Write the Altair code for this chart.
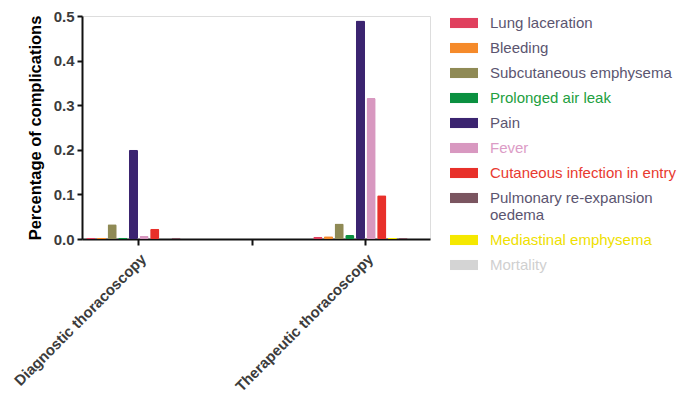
import altair as alt
import pandas as pd

groups = ["Diagnostic thoracoscopy", "Therapeutic thoracoscopy"]
axis_slots = ["Diagnostic thoracoscopy", "blank", "Therapeutic thoracoscopy"]

complications = [
    "Lung laceration",
    "Bleeding",
    "Subcutaneous emphysema",
    "Prolonged air leak",
    "Pain",
    "Fever",
    "Cutaneous infection in entry",
    "Pulmonary re-expansion oedema",
    "Mediastinal emphysema",
    "Mortality",
]
# order of the bars inside each group (as drawn in the original)
bar_order = [
    "Lung laceration",
    "Bleeding",
    "Subcutaneous emphysema",
    "Prolonged air leak",
    "Pain",
    "Fever",
    "Cutaneous infection in entry",
    "Mediastinal emphysema",
    "Pulmonary re-expansion oedema",
    "Mortality",
]

# values in legend order
diagnostic = [0.003, 0.003, 0.033, 0.003, 0.200, 0.007, 0.023, 0.003, 0.0, 0.0]
therapeutic = [0.005, 0.006, 0.035, 0.009, 0.490, 0.316, 0.098, 0.002, 0.002, 0.0]

bar_colors = [
    "#e0405e", "#f58a2a", "#8f8a55", "#0a9040", "#3b2470",
    "#d898c0", "#e8302a", "#7a5560", "#f5e800", "#d4d4d4",
]
label_colors = [
    "#5b5570", "#5b5570", "#5b5570", "#22a040", "#5b5570",
    "#dc9cc6", "#e83a30", "#5b5570", "#eee000", "#d0d0d0",
]

rows = []
for g, vals in zip(groups, [diagnostic, therapeutic]):
    for c, v in zip(complications, vals):
        rows.append({"group": g, "complication": c, "value": v})
df = pd.DataFrame(rows)

names_js = "[" + ",".join("'" + c + "'" for c in complications) + "]"
cols_js = "[" + ",".join("'" + c + "'" for c in label_colors) + "]"
label_color_expr = f"{cols_js}[indexof({names_js}, datum.value)]"

font = "Liberation Sans"

chart = (
    alt.Chart(df)
    .mark_bar(cornerRadius=1.5)
    .encode(
        x=alt.X(
            "group:N",
            scale=alt.Scale(domain=axis_slots, paddingInner=0, paddingOuter=0.033, align=0),
            axis=alt.Axis(
                title=None,
                labelAngle=-45,
                labelExpr="datum.value == 'blank' ? '' : datum.label",
                labelFont=font,
                labelFontSize=15,
                labelFontWeight="bold",
                labelColor="#3c3c3c",
                labelPadding=6,
                tickSize=6,
                tickWidth=2,
                tickColor="#111",
                domainWidth=2,
                domainColor="#111",
                labelLimit=400,
            ),
        ),
        xOffset=alt.XOffset(
            "complication:N",
            scale=alt.Scale(domain=bar_order, paddingInner=0.14, paddingOuter=0.4),
        ),
        y=alt.Y(
            "value:Q",
            scale=alt.Scale(domain=[0, 0.5], nice=False),
            axis=alt.Axis(
                title="Percentage of complications",
                values=[0, 0.1, 0.2, 0.3, 0.4, 0.5],
                format=".1f",
                grid=False,
                labelFont=font,
                labelFontSize=15,
                labelFontWeight="bold",
                labelColor="#3c3c3c",
                labelPadding=3,
                tickSize=5,
                tickWidth=2,
                tickColor="#111",
                domainWidth=2,
                domainColor="#111",
                titleFont=font,
                titleFontSize=16.5,
                titleFontWeight="bold",
                titleColor="#000",
                titlePadding=10,
            ),
        ),
        color=alt.Color(
            "complication:N",
            scale=alt.Scale(domain=complications, range=bar_colors),
            legend=alt.Legend(
                title=None,
                orient="none",
                legendX=368,
                legendY=-7,
                symbolType="M-1,-0.36H1V0.36H-1Z",
                symbolSize=784,
                symbolStrokeWidth=0,
                symbolOpacity=1,
                labelFont=font,
                labelFontSize=15,
                labelColor=alt.ExprRef(label_color_expr),
                labelOffset=12,
                labelLimit=300,
                rowPadding=3,
                labelExpr="datum.value == 'Pulmonary re-expansion oedema' ? ['Pulmonary re-expansion', 'oedema'] : datum.label",
            ),
        ),
    )
    .properties(
        width=348,
        height=223,
        autosize="none",
        padding={"left": 74, "top": 8, "right": 247, "bottom": 156},
    )
    .configure_view(stroke=None)
    .configure(background="white")
)

chart.save("out.html", embed_options={"renderer": "svg", "actions": False})
